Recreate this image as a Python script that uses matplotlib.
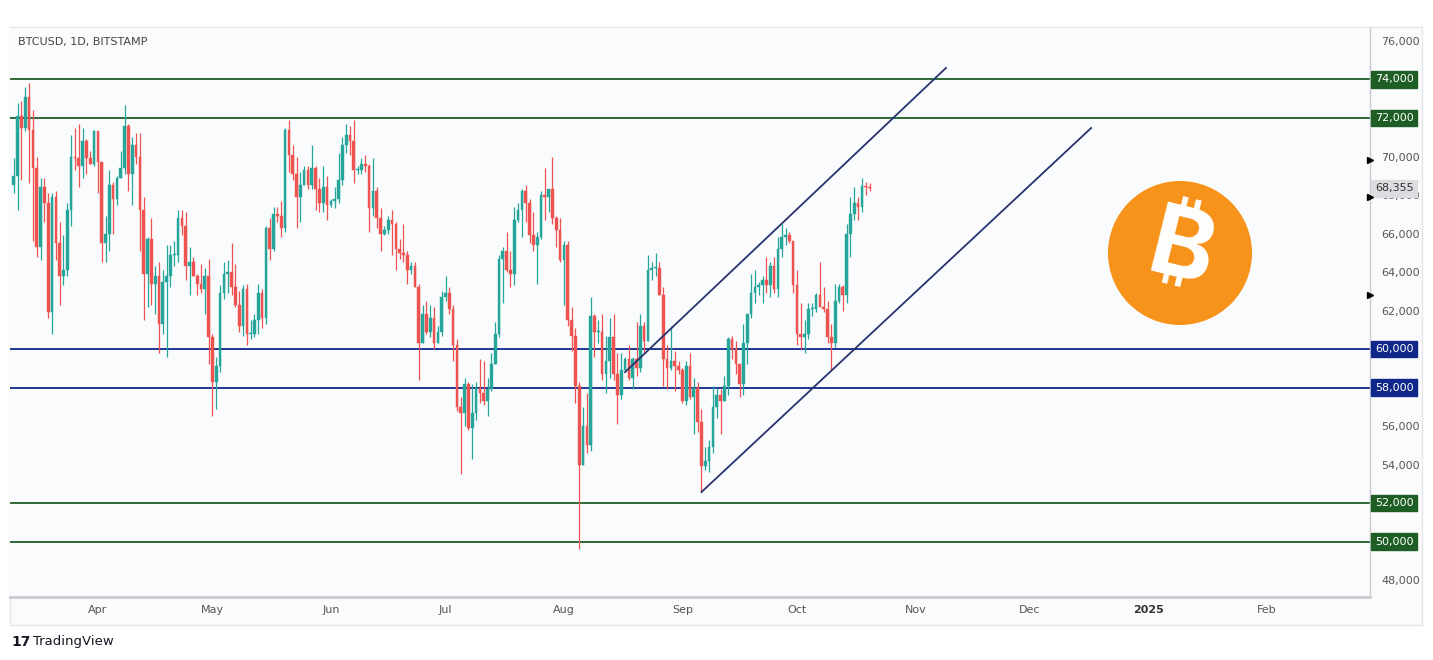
import matplotlib
matplotlib.use('Agg')
import matplotlib.pyplot as plt
import matplotlib.dates as mdates
from matplotlib.patches import Ellipse, Rectangle
import numpy as np
import pandas as pd

# BTCUSD daily candles, Bitstamp, 10 Mar - 20 Oct 2024 (thousands of USD)
start_date = '2024-03-10'

opens = [
    68.5, 69.0, 72.1, 71.5, 73.1, 71.4, 69.4, 65.3, 68.4, 67.6, 61.9, 67.9, 65.5, 63.8, 64.1, 67.2, 70.0, 69.9, 69.5, 70.8, 69.9, 69.6,
    71.3, 69.7, 65.5, 66.0, 68.5, 67.8, 68.9, 69.4, 71.6, 69.1, 70.6, 70.0, 67.2, 63.9, 65.7, 63.4, 63.8, 61.3, 63.5, 63.8,
    64.9, 64.9, 66.8, 66.4, 64.3, 64.5, 63.8, 63.4, 63.1, 63.8,
    60.6, 58.3, 59.1, 62.9, 63.9, 64.0, 63.2, 62.3, 61.2, 63.1, 60.8, 60.8, 61.5, 62.9, 61.6, 66.3, 65.2, 67.0, 66.9, 66.3,
    71.4, 70.1, 69.1, 67.9, 68.5, 69.3, 68.5, 69.4, 68.3, 67.6, 68.4,
    67.5, 67.7, 67.8, 68.8, 70.6, 71.1, 70.8, 69.3, 69.3, 69.6, 69.5, 67.3, 68.2, 66.8, 66.0, 66.2, 66.7, 66.5, 65.2, 65.0,
    64.9, 64.1, 64.3, 63.2, 60.3, 61.8, 60.9, 61.6, 60.3, 60.9,
    62.7, 62.9, 62.1, 60.2, 57.0, 56.7, 58.2, 55.9, 56.7, 58.0, 57.7, 57.3, 57.9, 59.2, 60.8, 64.7, 65.1, 64.1, 63.9, 66.7,
    67.2, 68.2, 67.6, 65.9, 65.4, 65.8, 68.0, 67.9, 68.3, 66.8, 66.2,
    64.6, 65.4, 61.5, 60.7, 58.1, 54.0, 56.0, 55.0, 61.7, 60.9, 60.9, 58.7, 59.4, 60.6, 58.7, 57.6, 58.9, 59.5, 58.5, 59.5,
    59.0, 61.2, 60.4, 64.1, 64.2, 64.2, 62.8, 59.5, 59.0, 59.4, 59.1,
    58.9, 57.3, 59.1, 57.5, 58.0, 56.2, 53.9, 54.2, 54.9, 57.0, 57.6, 57.3, 58.1, 60.5, 60.0, 59.2, 58.2, 60.3, 61.8, 62.9,
    63.2, 63.3, 63.6, 63.3, 64.3, 63.1, 65.2, 65.8, 65.9, 65.6,
    63.3, 60.8, 60.6, 60.8, 62.1, 62.1, 62.8, 62.2, 62.1, 60.6, 60.3, 62.5, 63.2, 62.8, 66.0, 67.0, 67.6, 67.4, 68.45, 68.4,
]
highs = [
    69.9, 72.8, 72.9, 73.6, 73.8, 72.4, 70.0, 68.9, 68.9, 68.1, 68.1, 68.2, 66.6, 65.9, 67.6, 71.1, 71.5, 71.7, 71.5, 70.9, 70.3, 71.4,
    71.3, 69.7, 66.9, 69.3, 68.7, 69.0, 70.3, 72.7, 71.7, 71.0, 71.2, 71.2, 67.9, 65.8, 66.8, 64.3, 64.5, 64.1, 65.4, 65.4,
    65.6, 67.2, 67.2, 67.1, 65.3, 64.8, 63.9, 64.4, 64.2, 64.7,
    60.8, 59.6, 63.3, 64.5, 64.6, 65.5, 64.4, 63.0, 63.3, 63.4, 61.5, 61.8, 63.4, 63.1, 66.4, 66.8, 67.4, 67.4, 67.7, 71.5,
    71.9, 70.6, 70.0, 69.2, 69.5, 69.5, 70.6, 69.5, 68.9, 69.5, 69.0,
    67.8, 68.4, 70.2, 71.0, 71.7, 71.6, 71.9, 69.5, 69.9, 70.1, 69.6, 69.9, 68.4, 67.3, 66.4, 66.9, 67.2, 66.6, 65.7, 66.5,
    65.1, 64.5, 64.5, 63.4, 62.3, 62.5, 62.3, 62.2, 61.2, 63.0,
    63.8, 63.2, 62.3, 60.5, 57.5, 58.5, 58.3, 58.2, 58.3, 59.5, 59.4, 58.5, 59.8, 61.4, 64.9, 65.3, 66.1, 65.1, 67.4, 67.6,
    68.3, 68.5, 67.8, 67.1, 66.1, 68.2, 69.4, 68.3, 70.0, 66.9, 66.8,
    65.6, 65.6, 62.2, 61.1, 58.3, 57.0, 57.7, 62.7, 61.8, 61.5, 61.8, 60.7, 61.6, 61.8, 59.8, 59.8, 59.6, 60.2, 59.6, 61.4,
    61.8, 61.4, 64.9, 64.5, 65.0, 64.5, 63.2, 60.2, 61.2, 59.9, 59.4,
    59.0, 59.4, 59.8, 58.5, 58.3, 56.9, 54.9, 55.3, 58.1, 58.0, 57.9, 58.6, 60.6, 60.7, 60.4, 59.2, 61.3, 61.8, 63.9, 64.1,
    63.5, 63.8, 64.8, 64.5, 64.8, 65.8, 66.5, 66.3, 66.1, 65.6,
    64.1, 62.4, 61.5, 62.4, 62.4, 62.9, 64.5, 63.2, 62.5, 61.3, 63.4, 63.4, 63.3, 66.5, 67.9, 68.4, 67.9, 68.9, 68.7, 68.6,
]
lows = [
    68.1, 67.2, 68.8, 71.3, 68.6, 65.6, 64.8, 64.6, 66.6, 61.6, 60.8, 64.6, 62.3, 63.3, 63.8, 66.4, 69.3, 68.4, 68.9, 69.1, 69.6, 69.5,
    68.1, 64.5, 64.5, 65.1, 66.0, 67.5, 68.9, 69.1, 68.2, 67.5, 69.6, 65.1, 61.5, 62.2, 62.3, 61.8, 59.8, 60.8, 59.6, 63.2,
    64.3, 64.5, 65.9, 63.6, 62.8, 63.8, 62.8, 62.9, 61.8, 59.2,
    56.5, 56.9, 58.8, 62.6, 62.9, 62.8, 62.2, 60.9, 60.7, 60.2, 60.5, 60.6, 60.8, 61.1, 61.3, 64.6, 65.1, 66.6, 65.8, 66.1,
    69.2, 68.8, 66.3, 66.6, 68.5, 68.3, 68.3, 67.2, 67.1, 67.1, 66.7,
    67.4, 67.3, 67.6, 68.5, 70.2, 70.1, 68.6, 69.1, 69.1, 69.2, 66.1, 66.9, 66.3, 65.1, 65.9, 66.0, 64.9, 64.1, 64.7, 64.5,
    63.4, 63.9, 63.2, 58.4, 60.3, 60.8, 60.6, 60.0, 60.3, 60.7,
    62.5, 61.8, 59.4, 56.8, 53.5, 56.0, 55.8, 54.3, 56.3, 57.2, 57.1, 56.5, 57.8, 59.2, 60.6, 62.4, 64.0, 63.2, 63.3, 66.6,
    65.8, 66.6, 65.5, 65.1, 63.4, 65.7, 66.7, 67.1, 66.5, 65.3, 64.5,
    62.3, 61.2, 59.9, 57.2, 49.6, 54.0, 54.6, 54.7, 59.6, 60.3, 58.4, 57.7, 58.5, 58.4, 56.1, 57.4, 58.8, 58.4, 57.9, 58.6,
    58.8, 59.8, 60.4, 63.6, 63.8, 62.8, 58.1, 57.9, 58.9, 57.8, 58.7,
    57.2, 57.1, 57.4, 55.6, 55.7, 52.6, 53.7, 53.6, 54.6, 56.4, 55.6, 57.3, 57.6, 59.5, 58.7, 57.5, 57.6, 59.2, 61.6, 62.4,
    62.8, 62.4, 62.9, 62.7, 62.9, 62.7, 64.8, 65.4, 65.5, 62.9,
    60.2, 60.0, 59.8, 60.5, 61.7, 61.9, 62.2, 61.9, 60.3, 58.9, 60.1, 62.4, 62.0, 62.4, 64.8, 66.7, 66.7, 67.1, 68.0, 68.2,
]
closes = [
    69.0, 72.1, 71.5, 73.1, 71.4, 69.4, 65.3, 68.4, 67.6, 61.9, 67.9, 65.5, 63.8, 64.1, 67.2, 70.0, 69.9, 69.5, 70.8, 69.9, 69.6, 71.3,
    69.7, 65.5, 66.0, 68.5, 67.8, 68.9, 69.4, 71.6, 69.1, 70.6, 70.0, 67.2, 63.9, 65.7, 63.4, 63.8, 61.3, 63.5, 63.8, 64.9,
    64.9, 66.8, 66.4, 64.3, 64.5, 63.8, 63.4, 63.1, 63.8, 60.6,
    58.3, 59.1, 62.9, 63.9, 64.0, 63.2, 62.3, 61.2, 63.1, 60.8, 60.8, 61.5, 62.9, 61.6, 66.3, 65.2, 67.0, 66.9, 66.3, 71.4,
    70.1, 69.1, 67.9, 68.5, 69.3, 68.5, 69.4, 68.3, 67.6, 68.4, 67.5,
    67.7, 67.8, 68.8, 70.6, 71.1, 70.8, 69.3, 69.3, 69.6, 69.5, 67.3, 68.2, 66.8, 66.0, 66.2, 66.7, 66.5, 65.2, 65.0, 64.9,
    64.1, 64.3, 63.2, 60.3, 61.8, 60.9, 61.6, 60.3, 60.9, 62.7,
    62.9, 62.1, 60.2, 57.0, 56.7, 58.2, 55.9, 56.7, 58.0, 57.7, 57.3, 57.9, 59.2, 60.8, 64.7, 65.1, 64.1, 63.9, 66.7, 67.2,
    68.2, 67.6, 65.9, 65.4, 65.8, 68.0, 67.9, 68.3, 66.8, 66.2, 64.6,
    65.4, 61.5, 60.7, 58.1, 54.0, 56.0, 55.0, 61.7, 60.9, 60.9, 58.7, 59.4, 60.6, 58.7, 57.6, 58.9, 59.5, 58.5, 59.5, 59.0,
    61.2, 60.4, 64.1, 64.2, 64.2, 62.8, 59.5, 59.0, 59.4, 59.1, 58.9,
    57.3, 59.1, 57.5, 58.0, 56.2, 53.9, 54.2, 54.9, 57.0, 57.6, 57.3, 58.1, 60.5, 60.0, 59.2, 58.2, 60.3, 61.8, 62.9, 63.2,
    63.3, 63.6, 63.3, 64.3, 63.1, 65.2, 65.8, 65.9, 65.6, 63.3,
    60.8, 60.6, 60.8, 62.1, 62.1, 62.8, 62.2, 62.1, 60.6, 60.3, 62.5, 63.2, 62.8, 66.0, 67.0, 67.6, 67.4, 68.45, 68.4, 68.355,
]

# horizontal levels and drawings
green_levels = [74000, 72000, 52000, 50000]
blue_levels = [60000, 58000]
last_price = 68355
alert_prices = [69800, 67900, 62800]
channel_upper = [('2024-08-17', 58800), ('2024-11-09', 74600)]
channel_lower = [('2024-09-06', 52570), ('2024-12-17', 71480)]

month_ticks = ['2024-04-01', '2024-05-01', '2024-06-01', '2024-07-01', '2024-08-01', '2024-09-01',
               '2024-10-01', '2024-11-01', '2024-12-01', '2025-01-01', '2025-02-01']
month_labels = ['Apr', 'May', 'Jun', 'Jul', 'Aug', 'Sep', 'Oct', 'Nov', 'Dec', '2025', 'Feb']
price_ticks = [76000, 70000, 68000, 66000, 64000, 62000, 56000, 54000, 48000]

GREEN_UP = '#26a69a'
RED_DOWN = '#ef5350'
LEVEL_GREEN = '#1e5e24'
LEVEL_BLUE = '#10278a'
CHANNEL = '#26336e'

W, H = 1433, 660
fig = plt.figure(figsize=(W / 100, H / 100), dpi=100)
fig.patch.set_facecolor('white')

# widget frame
fig.add_artist(Rectangle((10 / W, 1 - 625 / H), 1412 / W, 598 / H, transform=fig.transFigure,
                         facecolor='#fbfbfc', edgecolor='#e4e6ea', lw=1, zorder=0))

ax = fig.add_axes([10 / W, (H - 597) / H, 1360 / W, 569 / H])
ax.set_facecolor('#fafbfd')

dates = pd.date_range(start_date, periods=len(closes), freq='D')
x = mdates.date2num(dates.to_pydatetime())
o = np.array(opens) * 1000
h = np.array(highs) * 1000
l = np.array(lows) * 1000
c = np.array(closes) * 1000
up = c >= o
colors = np.where(up, GREEN_UP, RED_DOWN)

# candles
ax.vlines(x, l, h, colors=colors, lw=0.9, zorder=3)
body = np.maximum(np.abs(c - o), 40)
ax.bar(x, body, bottom=np.minimum(o, c), width=0.7, color=colors, edgecolor=colors, lw=0.3, zorder=4)

# levels
for lv in green_levels:
    ax.axhline(lv, color=LEVEL_GREEN, lw=1.3, zorder=2)
for lv in blue_levels:
    ax.axhline(lv, color=LEVEL_BLUE, lw=1.3, zorder=2)

# channel
for line in (channel_upper, channel_lower):
    xs = [mdates.date2num(pd.Timestamp(d)) for d, _ in line]
    ys = [p for _, p in line]
    ax.plot(xs, ys, color=CHANNEL, lw=1.3, zorder=5)

apr1 = mdates.date2num(pd.Timestamp('2024-04-01'))
ax.set_xlim(apr1 - 23.0, apr1 + 333.0)
ax.set_ylim(47120, 76675)

# axes styling
for side in ['top', 'left']:
    ax.spines[side].set_visible(False)
ax.spines['right'].set_color('#c8cad0')
ax.spines['right'].set_linewidth(1)
ax.spines['bottom'].set_color('#c8cad0')
ax.spines['bottom'].set_linewidth(2)

ax.yaxis.tick_right()
ax.set_yticks(price_ticks)
ax.set_yticklabels([f'{p:,}' for p in price_ticks])
ax.tick_params(axis='y', length=0, pad=8, labelsize=8, labelcolor='#555555')

ax.set_xticks([mdates.date2num(pd.Timestamp(d)) for d in month_ticks])
ax.set_xticklabels(month_labels)
ax.tick_params(axis='x', length=0, pad=6, labelsize=8, labelcolor='#555555')
for lbl in ax.get_xticklabels():
    if lbl.get_text() == '2025':
        lbl.set_fontweight('bold')
        lbl.set_color('#333333')

# level labels on the price axis
label_tf = ax.get_yaxis_transform()
for lv in green_levels + blue_levels:
    col = LEVEL_GREEN if lv in green_levels else LEVEL_BLUE
    ax.text(1.0035, lv, f'{lv:,}', transform=label_tf, ha='left', va='center', fontsize=8,
            color='white', zorder=10, clip_on=False,
            bbox=dict(boxstyle='square,pad=0.3', facecolor=col, edgecolor=col))
ax.text(1.0035, last_price, f'{last_price:,}', transform=label_tf, ha='left', va='center', fontsize=8,
        color='#333333', zorder=10, clip_on=False,
        bbox=dict(boxstyle='square,pad=0.3', facecolor='#dcdde0', edgecolor='#dcdde0'))
ax.plot([1.0] * len(alert_prices), alert_prices, transform=label_tf, marker='>', ls='none',
        color='black', markersize=5, clip_on=False, zorder=11)

# header and footer text
fig.text(18 / W, 1 - 42 / H, 'BTCUSD, 1D, BITSTAMP', fontsize=8, color='#444444', va='center', ha='left')
fig.text(11 / W, 1 - 642 / H, '17', fontsize=10, fontweight='heavy', color='#131722', va='center', ha='left')
fig.text(33 / W, 1 - 642 / H, 'TradingView', fontsize=9.5, color='#131722', va='center', ha='left')

# bitcoin logo
fig.add_artist(Ellipse((1180 / W, 1 - 253 / H), 144 / W, 144 / H, transform=fig.transFigure,
                       facecolor='#f7931a', edgecolor='none', zorder=6))
fig.text(1181 / W, 1 - 253 / H, '\u20bf', fontsize=70, fontweight='bold', color='white',
         rotation=-14, ha='center', va='center', zorder=7,
         family=['Inter', 'Noto Sans', 'Lato', 'DejaVu Sans'])

fig.savefig('out.png', dpi=100, facecolor=fig.get_facecolor())
